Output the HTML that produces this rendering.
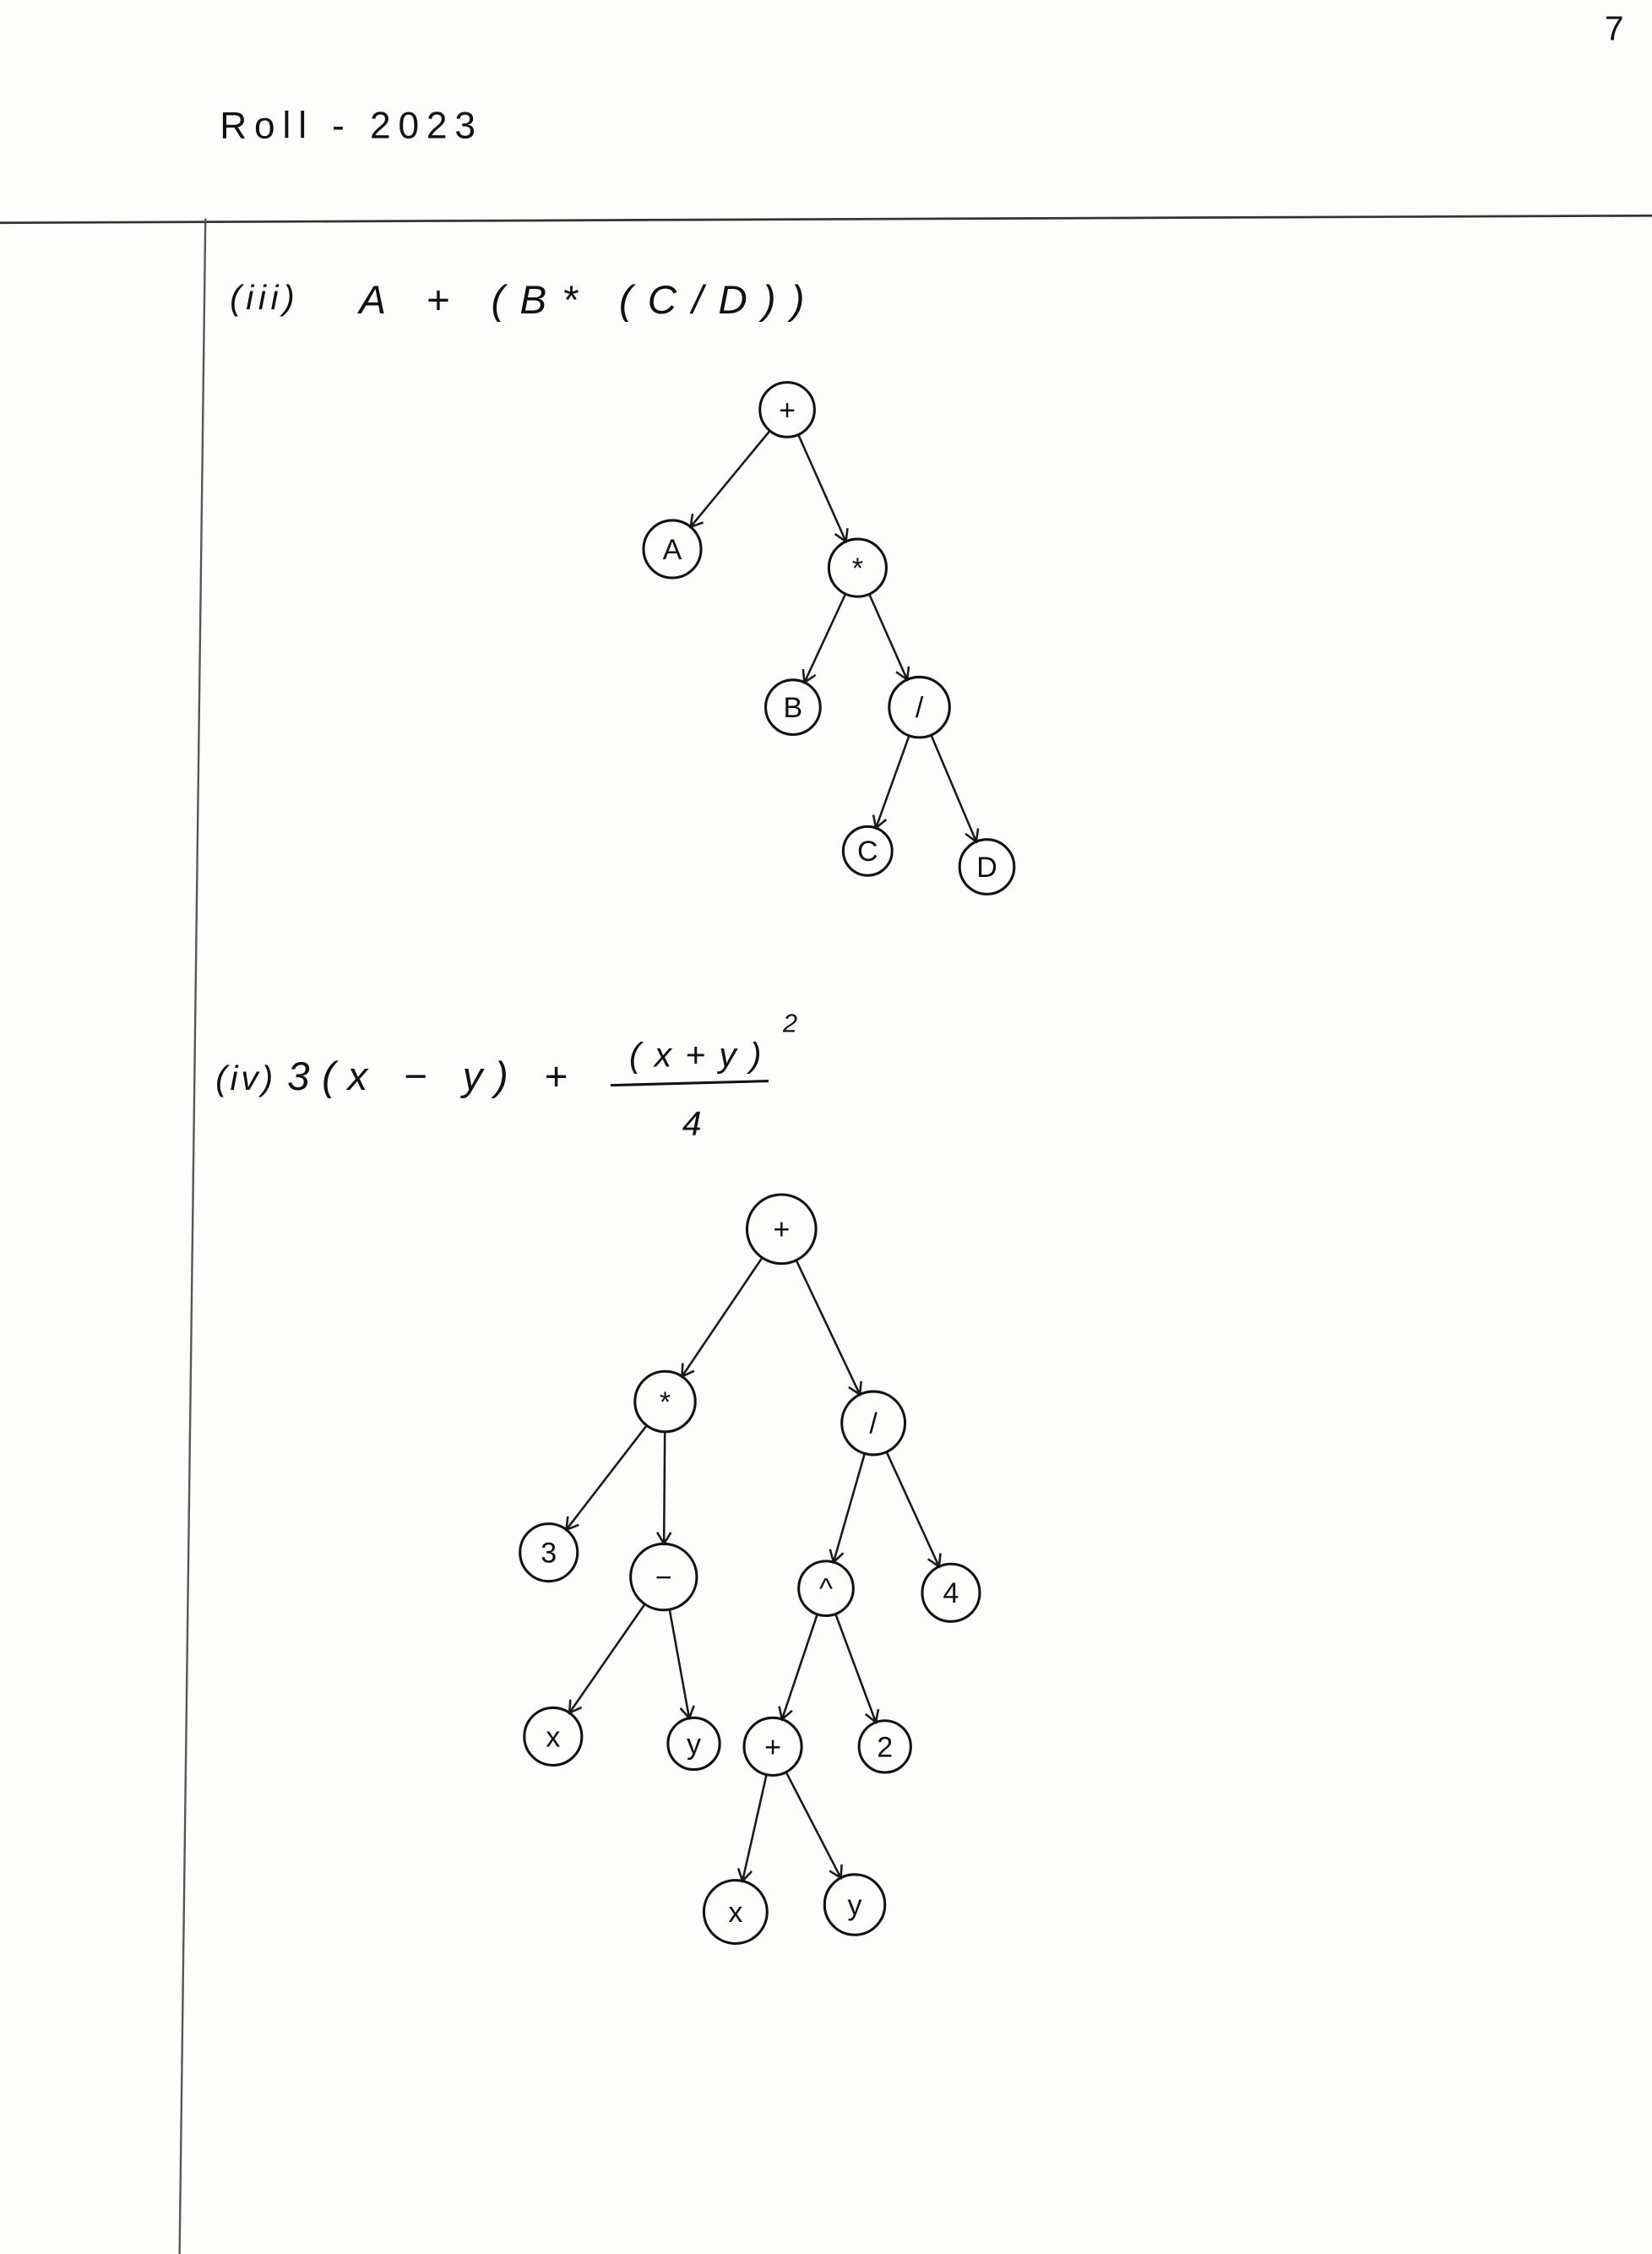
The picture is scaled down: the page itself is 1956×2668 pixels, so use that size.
<!DOCTYPE html>
<html><head><meta charset="utf-8">
<style>
html,body{margin:0;padding:0;background:#fdfdfc;}
svg{display:block;}
text{font-family:"Liberation Sans",sans-serif;fill:#111;}
</style></head>
<body>
<svg id="page" width="1956" height="2668" viewBox="0 0 1150 1568" preserveAspectRatio="none">
<rect x="0" y="0" width="1150" height="1568" fill="#fdfdfc"/>
<text x="1117" y="28" font-size="24">7</text>
<text x="153" y="96" font-size="26" textLength="178">Roll - 2023</text>
<line x1="0" y1="155" x2="1150" y2="150" stroke="#333" stroke-width="1.6"/>
<line x1="143" y1="152" x2="125" y2="1568" stroke="#555" stroke-width="1.4"/>
<text x="160" y="215" font-size="24" font-style="italic" textLength="45">(iii)</text>
<text x="250" y="218" font-size="28" font-style="italic" textLength="310">A + (B* (C/D))</text>
<text x="150" y="758" font-size="24" font-style="italic" textLength="40">(iv)</text>
<text x="200" y="758" font-size="28" font-style="italic" textLength="195">3(x − y) +</text>
<text x="438" y="742" font-size="24" font-style="italic" textLength="92">(x+y)</text>
<text x="545" y="718" font-size="18" font-style="italic">2</text>
<line x1="425" y1="755" x2="535" y2="752" stroke="#111" stroke-width="1.8"/>
<text x="475" y="790" font-size="24" font-style="italic">4</text>
<g id="trees"></g>
</svg>
<script>
const nodeLabels=["+","A","*","B","/","C","D","+","*","/","3","−","^","4","x","y","+","2","x","y"];
const nodeX=[548,468,597,552,640,604,687,544,463,608,382,462,575,662,385,483,538,616,512,595];
const nodeY=[285,382,395,492,492,592,603,855,975,990,1080,1097,1105,1108,1208,1213,1215,1215,1330,1325];
const nodeR=[19,20,20,19,21,17,19,24,21,22,20,23,19,20,20,18,20,18,22,21];
const edgeFrom=[0,0,2,2,4,4,7,7,8,8,11,11,9,9,12,12,16,16];
const edgeTo=[1,2,3,4,5,6,8,9,10,11,14,15,12,13,16,17,18,19];
const NS="http://www.w3.org/2000/svg";
const g=document.getElementById('trees');
for(let i=0;i<edgeFrom.length;i++){
  const a=edgeFrom[i],b=edgeTo[i];
  const dx=nodeX[b]-nodeX[a],dy=nodeY[b]-nodeY[a],d=Math.hypot(dx,dy),ux=dx/d,uy=dy/d;
  const x1=nodeX[a]+ux*nodeR[a],y1=nodeY[a]+uy*nodeR[a],x2=nodeX[b]-ux*nodeR[b],y2=nodeY[b]-uy*nodeR[b];
  const l=document.createElementNS(NS,'path');
  const px=-uy,py=ux,h=8;
  l.setAttribute('d',`M${x1},${y1}L${x2},${y2}M${x2-ux*h+px*h*0.6},${y2-uy*h+py*h*0.6}L${x2},${y2}L${x2-ux*h-px*h*0.6},${y2-uy*h-py*h*0.6}`);
  l.setAttribute('stroke','#1a1a1a');l.setAttribute('stroke-width','1.5');l.setAttribute('fill','none');
  
  
  g.appendChild(l);
}
for(let i=0;i<nodeLabels.length;i++){
  const c=document.createElementNS(NS,'circle');
  c.setAttribute('cx',nodeX[i]);c.setAttribute('cy',nodeY[i]);c.setAttribute('r',nodeR[i]);
  c.setAttribute('fill','none');c.setAttribute('stroke','#111');c.setAttribute('stroke-width','1.8');
  
  
  g.appendChild(c);
  const t=document.createElementNS(NS,'text');
  t.setAttribute('x',nodeX[i]);t.setAttribute('y',nodeY[i]+7);t.setAttribute('text-anchor','middle');
  t.setAttribute('font-size','20');t.textContent=nodeLabels[i];
  
  
  g.appendChild(t);
}
</script>
</body></html>
